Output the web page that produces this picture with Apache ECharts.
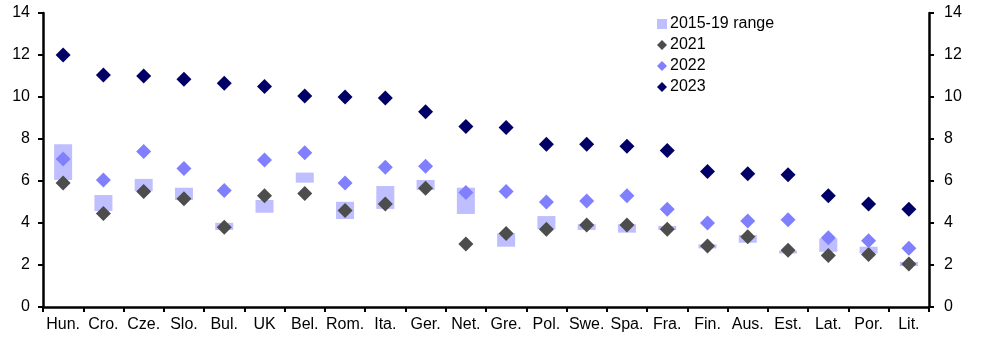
<!DOCTYPE html>
<html>
<head>
<meta charset="utf-8">
<script src="https://cdn.jsdelivr.net/npm/echarts@6/dist/echarts.min.js"></script>
<style>
  html, body { margin: 0; padding: 0; background: #fff; }
  #chart { width: 982px; height: 337px; }
</style>
</head>
<body>
<div id="chart"></div>
<script>
// Countries along the x axis
const countries = ['Hun.', 'Cro.', 'Cze.', 'Slo.', 'Bul.', 'UK', 'Bel.', 'Rom.', 'Ita.', 'Ger.', 'Net.',
  'Gre.', 'Pol.', 'Swe.', 'Spa.', 'Fra.', 'Fin.', 'Aus.', 'Est.', 'Lat.', 'Por.', 'Lit.'];

// 2015-19 range: lower and upper bounds
const rangeLow  = [6.05, 4.57, 5.52, 5.10, 3.67, 4.49, 5.92, 4.19, 4.67, 5.57, 4.43,
  2.87, 3.70, 3.67, 3.54, 3.67, 2.79, 3.06, 2.55, 2.63, 2.55, 1.95];
const rangeHigh = [7.75, 5.33, 6.10, 5.68, 4.01, 5.10, 6.40, 5.01, 5.76, 6.05, 5.68,
  3.51, 4.33, 3.94, 3.94, 3.86, 2.98, 3.43, 2.68, 3.27, 2.87, 2.15];

const y2021 = [5.90, 4.45, 5.50, 5.15, 3.80, 5.30, 5.40, 4.60, 4.90, 5.65, 3.00,
  3.50, 3.70, 3.90, 3.90, 3.70, 2.90, 3.35, 2.70, 2.45, 2.50, 2.05];
const y2022 = [7.05, 6.05, 7.40, 6.60, 5.55, 7.00, 7.35, 5.90, 6.65, 6.70, 5.45,
  5.50, 5.00, 5.05, 5.30, 4.65, 4.00, 4.10, 4.15, 3.30, 3.15, 2.80];
const y2023 = [12.00, 11.05, 11.00, 10.85, 10.65, 10.50, 10.05, 10.00, 9.95, 9.30, 8.60,
  8.55, 7.75, 7.75, 7.65, 7.45, 6.45, 6.35, 6.30, 5.30, 4.90, 4.65];

const yTicks = { min: 0, max: 14, interval: 2 };

const rangeSpan = rangeHigh.map((h, i) => +(h - rangeLow[i]).toFixed(2));

const font = 'Liberation Sans, Arial, sans-serif';
const axisLine = { show: true, lineStyle: { color: '#000', width: 2.5 } };
const tickStyle = { show: true, length: 5, lineStyle: { color: '#000', width: 2 } };

function valueAxis(position, margin) {
  return {
    type: 'value', position: position,
    min: yTicks.min, max: yTicks.max, interval: yTicks.interval,
    axisLine: axisLine,
    axisTick: tickStyle,
    splitLine: { show: false },
    axisLabel: { color: '#000', fontSize: 16, fontFamily: font, margin: margin }
  };
}

function diamonds(name, data, color) {
  return {
    name: name, type: 'scatter', data: data, symbol: 'diamond', symbolSize: 15,
    itemStyle: { color: color, opacity: 1 }
  };
}

const chart = echarts.init(document.getElementById('chart'));
chart.setOption({
  animation: false,
  grid: { left: 43, right: 53, top: 13, bottom: 30 },
  legend: {
    orient: 'vertical', left: 652, top: 11,
    itemWidth: 10, itemHeight: 10, itemGap: 5,
    textStyle: { fontSize: 16, fontFamily: font, color: '#000', padding: [0, 0, 0, -2] },
    data: [
      { name: '2015-19 range', icon: 'rect' },
      { name: '2021' }, { name: '2022' }, { name: '2023' }
    ]
  },
  xAxis: {
    type: 'category', data: countries, boundaryGap: true,
    axisLine: axisLine,
    axisTick: { show: true, length: 5, lineStyle: { color: '#000', width: 2 } },
    axisLabel: { color: '#000', fontSize: 16, fontFamily: font, margin: 10, interval: 0 }
  },
  yAxis: [valueAxis('left', 13), valueAxis('right', 15)],
  series: [
    {
      name: 'base', type: 'bar', stack: 'range', data: rangeLow, barWidth: 18,
      itemStyle: { color: 'transparent' }, silent: true
    },
    {
      name: '2015-19 range', type: 'bar', stack: 'range', data: rangeSpan, barWidth: 18,
      itemStyle: { color: '#bfbfff' }
    },
    diamonds('2021', y2021, '#4d4d4d'),
    diamonds('2022', y2022, '#8080ff'),
    diamonds('2023', y2023, '#000066')
  ]
});
</script>
</body>
</html>
